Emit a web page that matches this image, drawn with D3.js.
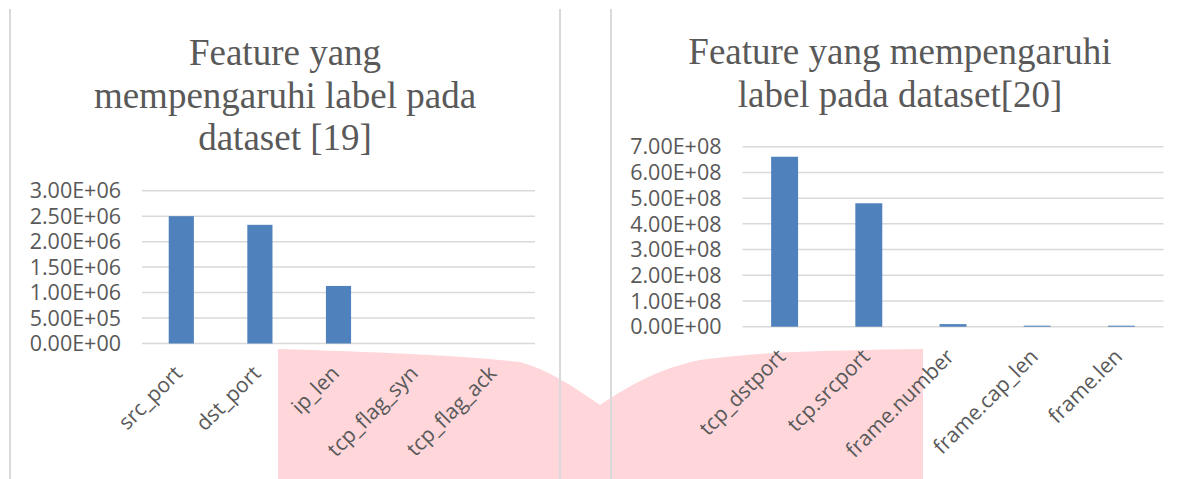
<!DOCTYPE html>
<html>
<head>
<meta charset="utf-8">
<script src="https://cdn.jsdelivr.net/npm/d3@7"></script>
<style>
  body { margin: 0; background: #fff; }
  svg { display: block; }
</style>
</head>
<body>
<div id="chart"></div>
<script>
// data
const leftCategories = ["src_port", "dst_port", "ip_len", "tcp_flag_syn", "tcp_flag_ack"];
const leftValues = [2.5e6, 2.33e6, 1.13e6, 0, 0];
const leftTicks = [0, 5e5, 1e6, 1.5e6, 2e6, 2.5e6, 3e6];
const leftTitle = ["Feature yang", "mempengaruhi label pada", "dataset [19]"];

const rightCategories = ["tcp_dstport", "tcp.srcport", "frame.number", "frame.cap_len", "frame.len"];
const rightValues = [6.61e8, 4.8e8, 1.0e7, 4e6, 4e6];
const rightTicks = [0, 1e8, 2e8, 3e8, 4e8, 5e8, 6e8, 7e8];
const rightTitle = ["Feature yang mempengaruhi", "label pada dataset[20]"];

const width = 1182, height = 479;
const textColor = "#595959";
const gridColor = "#d9d9d9";
const barColor = "#4f81bd";

const svg = d3.select("#chart")
  .append("svg")
  .attr("width", width)
  .attr("height", height);

// pink decoration behind the charts
svg.append("path")
  .attr("d", "M278,349 C380,352 470,356 520,362 C550,370 575,388 600,405 C630,385 660,368 700,360 C760,351 850,350 923,349 L923,479 L278,479 Z")
  .attr("fill", "#ffd7db");

// vertical frame lines
[10, 560, 611].forEach(function(x) {
  svg.append("line")
    .attr("x1", x).attr("x2", x)
    .attr("y1", 9).attr("y2", height)
    .attr("stroke", gridColor)
    .attr("stroke-width", 2);
});

// 3.00E+06 style numbers
function fmtE(v) {
  if (v === 0) return "0.00E+00";
  let e = Math.floor(Math.log10(v));
  let m = v / Math.pow(10, e);
  if (+m.toFixed(2) >= 10) { m = m / 10; e += 1; }
  return m.toFixed(2) + "E+" + String(e).padStart(2, "0");
}

function drawChart(opts) {
  const g = svg.append("g");

  // title
  g.append("text")
    .attr("text-anchor", "middle")
    .attr("font-family", "'Liberation Serif', 'Times New Roman', serif")
    .attr("font-size", 37)
    .attr("fill", textColor)
    .selectAll("tspan")
    .data(opts.title)
    .enter()
    .append("tspan")
    .attr("x", opts.titleX)
    .attr("y", function(d, i) { return opts.titleY + i * 42.5; })
    .text(function(d) { return d; });

  const x = d3.scaleBand()
    .domain(opts.categories)
    .range([opts.left, opts.right])
    .paddingInner(0.68)
    .paddingOuter(0.34);

  const y = d3.scaleLinear()
    .domain([0, opts.max])
    .range([opts.bottom, opts.top]);

  // gridlines
  g.selectAll(".grid")
    .data(opts.ticks)
    .enter()
    .append("line")
    .attr("x1", opts.left)
    .attr("x2", opts.right)
    .attr("y1", function(d) { return y(d); })
    .attr("y2", function(d) { return y(d); })
    .attr("stroke", gridColor)
    .attr("stroke-width", 1.5);

  // y tick labels
  g.selectAll(".ylab")
    .data(opts.ticks)
    .enter()
    .append("text")
    .attr("x", opts.left - 21)
    .attr("y", function(d) { return y(d); })
    .attr("dy", "0.36em")
    .attr("text-anchor", "end")
    .attr("font-family", "'Open Sans', sans-serif")
    .attr("font-size", 21.5)
    .attr("fill", textColor)
    .text(fmtE);

  // bars
  g.selectAll(".bar")
    .data(opts.values)
    .enter()
    .append("rect")
    .attr("x", function(d, i) { return x(opts.categories[i]); })
    .attr("width", x.bandwidth())
    .attr("y", function(d) { return y(d); })
    .attr("height", function(d) { return opts.bottom - y(d); })
    .attr("fill", barColor);

  // rotated category labels
  g.selectAll(".xlab")
    .data(opts.categories)
    .enter()
    .append("text")
    .attr("transform", function(d) {
      const cx = x(d) + x.bandwidth() / 2;
      return "translate(" + (cx - 3) + "," + (opts.bottom + 26) + ") rotate(-45)";
    })
    .attr("dy", "0.35em")
    .attr("text-anchor", "end")
    .attr("font-family", "'Open Sans', sans-serif")
    .attr("font-size", 21)
    .attr("fill", textColor)
    .text(function(d) { return d; });
}

drawChart({
  categories: leftCategories,
  values: leftValues,
  ticks: leftTicks,
  max: 3e6,
  title: leftTitle,
  titleX: 285,
  titleY: 65,
  left: 142,
  right: 535,
  top: 190.7,
  bottom: 343.5
});

drawChart({
  categories: rightCategories,
  values: rightValues,
  ticks: rightTicks,
  max: 7e8,
  title: rightTitle,
  titleX: 900,
  titleY: 64,
  left: 742.5,
  right: 1163.5,
  top: 146.7,
  bottom: 326.7
});
</script>
</body>
</html>
